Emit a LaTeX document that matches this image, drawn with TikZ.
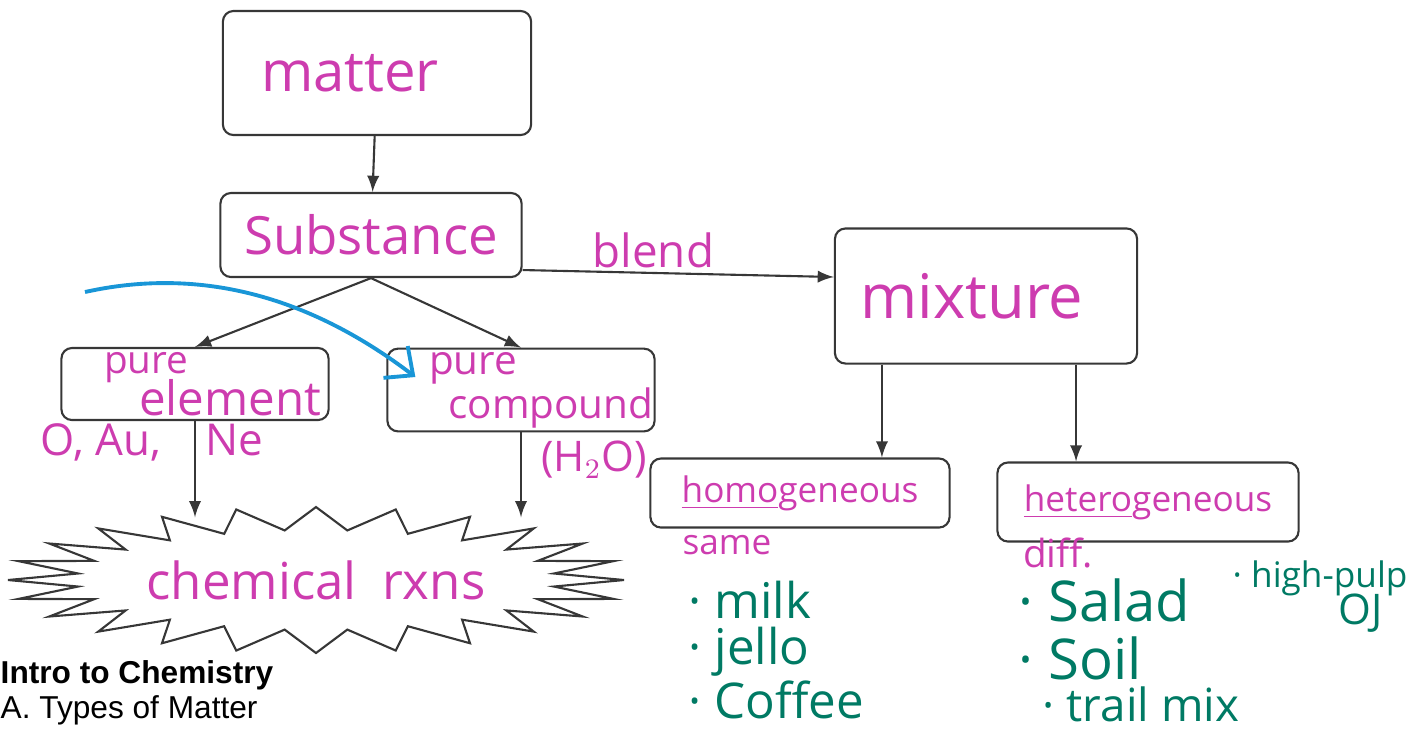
\documentclass[tikz,border=0pt]{standalone}
\usepackage{fontspec}
\setmainfont{Liberation Sans}
\newfontfamily\plume{Open Sans}
\usepackage{tikz}
\usetikzlibrary{shapes}
\usetikzlibrary{arrows}
\usetikzlibrary{arrows.meta}
\usetikzlibrary{calc}
\definecolor{rose}{RGB}{205,60,175}
\definecolor{vert}{RGB}{0,122,100}
\definecolor{bleu}{RGB}{25,150,215}
\definecolor{trait}{RGB}{55,55,55}
\tikzstyle{boite}=[
        rectangle,
        draw=trait,
        line width=0.6pt,
        rounded corners=3pt,
        text=rose,
        align=center
]
\tikzstyle{encre}=[text=rose,inner sep=0pt]
\tikzstyle{liste}=[text=vert,inner sep=0pt,anchor=west]
\tikzstyle{suite}=[->,>=latex,draw=trait,line width=0.6pt]
\tikzstyle{fleche}=[-{Straight Barb[length=2.2mm,width=4mm]},draw=bleu,line width=1.1pt]

\begin{document}
\begin{tikzpicture}[x=0.01cm,y=-0.01cm]
\useasboundingbox (0,0) rectangle (1415,732);
\node[boite,minimum width=3.08cm,minimum height=1.24cm,font=\plume\fontsize{16}{18}\selectfont] (mat) at (377,73) {matter\hspace*{0.54cm}};
\node[boite,minimum width=3.01cm,minimum height=0.84cm,font=\plume\fontsize{15}{17}\selectfont] (sub) at (371,235) {Substance};
\node[boite,minimum width=3.02cm,minimum height=1.35cm,font=\plume\fontsize{17.5}{20}\selectfont] (mix) at (986,296) {mixture\hspace*{0.28cm}};
\node[boite,minimum width=2.67cm,minimum height=0.72cm,align=left,inner sep=1pt,font=\plume\fontsize{13.5}{12}\selectfont] (elem) at (195,384) {{\fontsize{11}{10}\selectfont pure}\\[-2pt]\hspace*{10pt}element\hspace*{-10pt}};
\node[boite,minimum width=2.67cm,minimum height=0.75cm,align=left,inner sep=1pt,font=\plume\fontsize{11.5}{11}\selectfont] (cmp) at (521,390) {\hspace*{3pt}pure\\\hspace*{8.5pt}compound\hspace*{-8.5pt}};
\node[boite,minimum width=2.99cm,minimum height=0.69cm,font=\plume\fontsize{10}{12}\selectfont] (homo) at (800,493) {\underline{homo}geneous};
\node[boite,minimum width=3.01cm,minimum height=0.79cm,font=\plume\fontsize{10}{12}\selectfont] (hete) at (1148,502) {\underline{hetero}geneous};
\node[encre,minimum width=6.16cm,minimum height=1.24cm,font=\plume\fontsize{14.5}{17}\selectfont] (chem) at (316,580) {chemical\enspace rxns};
%Contour de l'etoile
\draw[draw=trait,line width=0.6pt] (chem.center) ++(308,0) \foreach \k in {0,...,23} { -- ($(chem.center)+({240*cos(15*\k+7.5)},{50*sin(15*\k+7.5)})$) -- ($(chem.center)+({308*cos(15*\k+15)},{73*sin(15*\k+15)})$) } -- cycle;
%Annotations
\node[encre,font=\plume\fontsize{12.5}{15}\selectfont] (ex1) at (152,442) {O, Au,\quad Ne};
\node[encre,font=\plume\fontsize{12}{14}\selectfont] (ex2) at (594,460) {(H$_2$O)};
\node[encre,font=\plume\fontsize{10}{12}\selectfont] (same) at (727,545) {same};
\node[encre,font=\plume\fontsize{11}{13}\selectfont] (diff) at (1058,553) {diff.};
\node[liste,font=\plume\fontsize{14}{17}\selectfont] (l1) at (688,600) {· milk};
\node[liste,font=\plume\fontsize{14}{17}\selectfont] (l2) at (688,652) {· jello};
\node[liste,font=\plume\fontsize{14}{17}\selectfont] (l3) at (688,700) {· Coffee};
\node[liste,font=\plume\fontsize{16}{18}\selectfont] (l4) at (1018,600) {· Salad};
\node[liste,font=\plume\fontsize{16}{18}\selectfont] (l5) at (1018,658) {· Soil};
\node[liste,font=\plume\fontsize{13}{17}\selectfont] (l6) at (1042,704) {· trail mix};
\node[liste,font=\plume\fontsize{10}{12}\selectfont] (l7) at (1232,578) {· high-pulp};
\node[liste,font=\plume\fontsize{12}{14}\selectfont] (l8) at (1338,613) {OJ};
\node[anchor=west,inner sep=0pt,font=\bfseries\fontsize{9}{11}\selectfont] (tit) at (0,675) {Intro to Chemistry};
\node[anchor=west,inner sep=0pt,font=\fontsize{9}{11}\selectfont] (sst) at (0,710) {A. Types of Matter};
%Placement des fleches
\draw[suite] (mat) -- (sub);
\draw[suite] ([yshift=-0.35cm]sub.east) -- ([yshift=0.19cm]mix.west) node[pos=0.42,above=1pt,encre,font=\plume\fontsize{13}{15}\selectfont]{blend};
\draw[suite] (sub.south) -- (elem.north);
\draw[suite] (sub.south) -- (cmp.north);
\draw[suite] (elem.south) -- (elem.south |- chem.north);
\draw[suite] (cmp.south) -- (cmp.south |- chem.north);
\draw[suite] ([xshift=-1.04cm]mix.south) -- ([xshift=-1.04cm]mix.south |- homo.north);
\draw[suite] ([xshift=0.9cm]mix.south) -- ([xshift=0.9cm]mix.south |- hete.north);
\coordinate (dep) at (85,292);
\draw[fleche] (dep) .. controls (220,262) and (330,312) .. ([xshift=0.29cm,yshift=0.13cm]cmp.west);
\end{tikzpicture}
\end{document}
